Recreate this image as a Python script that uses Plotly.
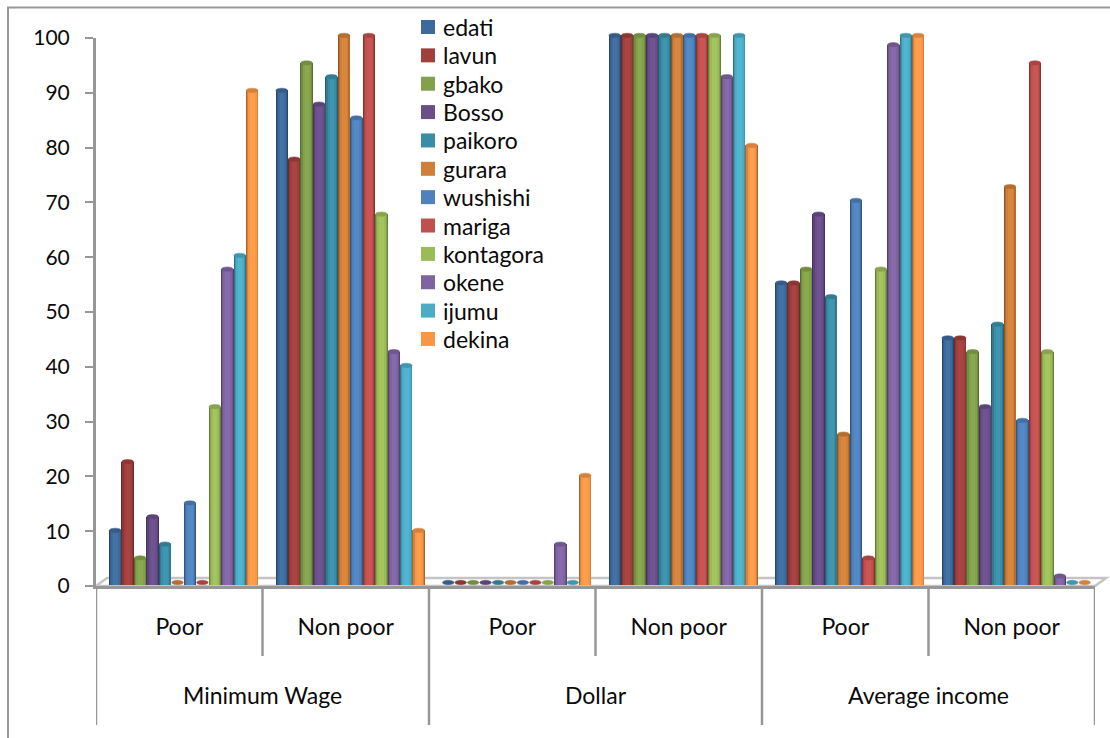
import plotly.graph_objects as go

W, H = 1110, 738

# Category levels
measures = ["Minimum Wage", "Dollar", "Average income"]
classes = ["Poor", "Non poor", "Poor", "Non poor", "Poor", "Non poor"]
group_index = [0, 1, 2, 3, 4, 5]
y_ticks = [0, 10, 20, 30, 40, 50, 60, 70, 80, 90, 100]

# Percentages per LGA, one value per class column
edati = [10, 90, 0, 100, 55, 45]
lavun = [22.5, 77.5, 0, 100, 55, 45]
gbako = [5, 95, 0, 100, 57.5, 42.5]
bosso = [12.5, 87.5, 0, 100, 67.5, 32.5]
paikoro = [7.5, 92.5, 0, 100, 52.5, 47.5]
gurara = [0, 100, 0, 100, 27.5, 72.5]
wushishi = [15, 85, 0, 100, 70, 30]
mariga = [0, 100, 0, 100, 5, 95]
kontagora = [32.5, 67.5, 0, 100, 57.5, 42.5]
okene = [57.5, 42.5, 7.5, 92.5, 98.3, 1.7]
ijumu = [60, 40, 0, 100, 100, 0]
dekina = [90, 10, 20, 80, 100, 0]

names = ["edati", "lavun", "gbako", "Bosso", "paikoro", "gurara",
         "wushishi", "mariga", "kontagora", "okene", "ijumu", "dekina"]
series = [edati, lavun, gbako, bosso, paikoro, gurara,
          wushishi, mariga, kontagora, okene, ijumu, dekina]
main_colors = ["#3D6A9C", "#A0403E", "#83A14B", "#6A4E8A", "#3A8DA6", "#CF7F39",
               "#4F81BD", "#C0504D", "#9BBB59", "#8064A2", "#4BACC6", "#F79646"]
mid_colors = ["#345C88", "#8B3734", "#728C41", "#5B4378", "#327B91", "#B46E31",
              "#446FA4", "#A74542", "#87A34D", "#6F578D", "#4195AC", "#D6823D"]
rim_colors = ["#294868", "#6C2B29", "#566C32", "#46345C", "#275F70", "#8B5526",
              "#35577F", "#813533", "#697E3B", "#56436D", "#327385", "#A6652F"]
core_colors = ["#4372A6", "#A94442", "#89A950", "#705393", "#3F96B0", "#DA873D",
               "#5489C7", "#CB5552", "#A3C55E", "#876AAB", "#50B5D0", "#FF9F4B"]

AXIS_GRAY = "#979797"
FLOOR_GRAY = "#C4C4C4"
FONT = "Lato, Carlito, sans-serif"
TEXT = "#0A0A0A"


def fx(px):
    return px / W


def fy(py):
    return 1 - py / H


# Pixel frame of the plot box
left, right = 96, 1095
axis_bottom, axis_top = 586, 38
bar_bottom, bar_top = 585.4, 35.4
bars_clip_top, bars_clip_bottom = 24, 590
floor_rise = 8
floor_run = 11

group_w = (right - left) / 6
bar_w = 12.45 / group_w
bar_start = -70.25 / group_w
px_unit = 1 / group_w
px_per_value = (bar_bottom - bar_top) / 100

fig = go.Figure()

for i, (name, values) in enumerate(zip(names, series)):
    start = bar_start + i * bar_w
    # Cylinder shading: concentric strips from dark rim to bright core
    layers = [
        (rim_colors[i], 0.0, 0.0),
        (mid_colors[i], 1.0, 0.7),
        (main_colors[i], 2.2, 1.8),
        (core_colors[i], 4.2, 3.6),
    ]
    for color, inset_left, inset_right in layers:
        fig.add_trace(go.Bar(
            x=group_index, y=values, name=name,
            showlegend=False,
            offset=start + inset_left * px_unit,
            width=bar_w - (inset_left + inset_right) * px_unit,
            marker=dict(color=color, line=dict(width=0)),
            xaxis="x", yaxis="y",
        ))

# Carrier trace so the visible value axis is laid out
fig.add_trace(go.Scatter(x=[group_index[0]], y=[y_ticks[0]], mode="markers",
                         marker=dict(opacity=0), showlegend=False,
                         hoverinfo="skip", xaxis="x", yaxis="y2"))

shapes = []

# Floor of the plot box
shapes.append(dict(
    type="path", xref="paper", yref="paper", layer="below",
    path=(f"M {fx(left)},{fy(axis_bottom)} L {fx(left + floor_run)},{fy(axis_bottom - floor_rise)} "
          f"L {fx(right + floor_run)},{fy(axis_bottom - floor_rise)} L {fx(right)},{fy(axis_bottom)} Z"),
    line=dict(color=FLOOR_GRAY, width=2.5), fillcolor="#FFFFFF",
))

# Outer frame, top and left edges only
shapes.append(dict(type="line", xref="paper", yref="paper",
                   x0=fx(7), x1=1, y0=fy(7.5), y1=fy(7.5),
                   line=dict(color=AXIS_GRAY, width=2)))
shapes.append(dict(type="line", xref="paper", yref="paper",
                   x0=fx(8), x1=fx(8), y0=fy(7), y1=0,
                   line=dict(color=AXIS_GRAY, width=2)))

# Category dividers below the axis
for k in range(7):
    bottom = 725 if k % 2 == 0 else 656
    xpos = k - 0.5
    shapes.append(dict(type="line", xref="x", yref="paper",
                       x0=xpos, x1=xpos, y0=fy(axis_bottom), y1=fy(bottom),
                       line=dict(color=AXIS_GRAY, width=2.5)))

# Elliptical caps on top of every cylinder; empty columns rest on the floor
cap_half = 2.2 / px_per_value
cap_floor = 2.9 / px_per_value
for i, values in enumerate(series):
    for g, v in zip(group_index, values):
        x0 = g + bar_start + i * bar_w + 0.4 * px_unit
        centre = max(v, cap_floor)
        shapes.append(dict(type="circle", xref="x", yref="y", layer="above",
                           x0=x0, x1=x0 + bar_w - 0.8 * px_unit,
                           y0=centre - cap_half, y1=centre + cap_half,
                           fillcolor=mid_colors[i],
                           line=dict(color=mid_colors[i], width=0.5)))

annotations = [
    dict(text=m, x=2 * j + 0.5, xref="x", y=fy(695), yref="paper",
         showarrow=False, xanchor="center", yanchor="middle",
         font=dict(family=FONT, size=23, color=TEXT))
    for j, m in enumerate(measures)
]

# Key: a swatch and a label for each series, stacked beside the first columns
key_first, key_step = 27, 28.36
for i, name in enumerate(names):
    cy = key_first + i * key_step
    shapes.append(dict(type="rect", xref="paper", yref="paper", layer="above",
                       x0=fx(421), x1=fx(435), y0=fy(cy + 7), y1=fy(cy - 7),
                       fillcolor=main_colors[i], line=dict(width=0)))
    annotations.append(dict(text=name, x=fx(441), xref="paper", y=fy(cy), yref="paper",
                            showarrow=False, xanchor="left", yanchor="middle",
                            font=dict(family=FONT, size=23, color=TEXT)))

fig.update_layout(
    width=W, height=H, autosize=False,
    margin=dict(l=0, r=0, t=0, b=0, autoexpand=False),
    paper_bgcolor="#FFFFFF", plot_bgcolor="rgba(0,0,0,0)",
    barmode="overlay", bargap=0,
    font=dict(family=FONT, size=23, color=TEXT),
    showlegend=False,
    xaxis=dict(domain=[fx(left), fx(right)], range=[-0.5, 5.5], anchor="y2",
               automargin=False,
               tickmode="array", tickvals=group_index, ticktext=classes,
               ticks="", showgrid=False, zeroline=False,
               showline=True, linecolor=AXIS_GRAY, linewidth=3,
               ticklabelstandoff=18, tickfont=dict(family=FONT, size=23, color=TEXT)),
    yaxis=dict(domain=[fy(bars_clip_bottom), fy(bars_clip_top)],
               range=[(bar_bottom - bars_clip_bottom) / px_per_value,
                      (bar_bottom - bars_clip_top) / px_per_value],
               visible=False, anchor="x", automargin=False),
    yaxis2=dict(domain=[fy(axis_bottom), fy(axis_top)], range=[0, 100], anchor="x",
                automargin=False,
                tickmode="array", tickvals=y_ticks, ticks="outside", ticklen=8,
                tickcolor=AXIS_GRAY, tickwidth=2, ticklabelstandoff=11,
                showgrid=False, zeroline=False,
                showline=True, linecolor=AXIS_GRAY, linewidth=3,
                tickfont=dict(family=FONT, size=21, color=TEXT)),
    shapes=shapes,
    annotations=annotations,
)

fig.write_html("out.html")
